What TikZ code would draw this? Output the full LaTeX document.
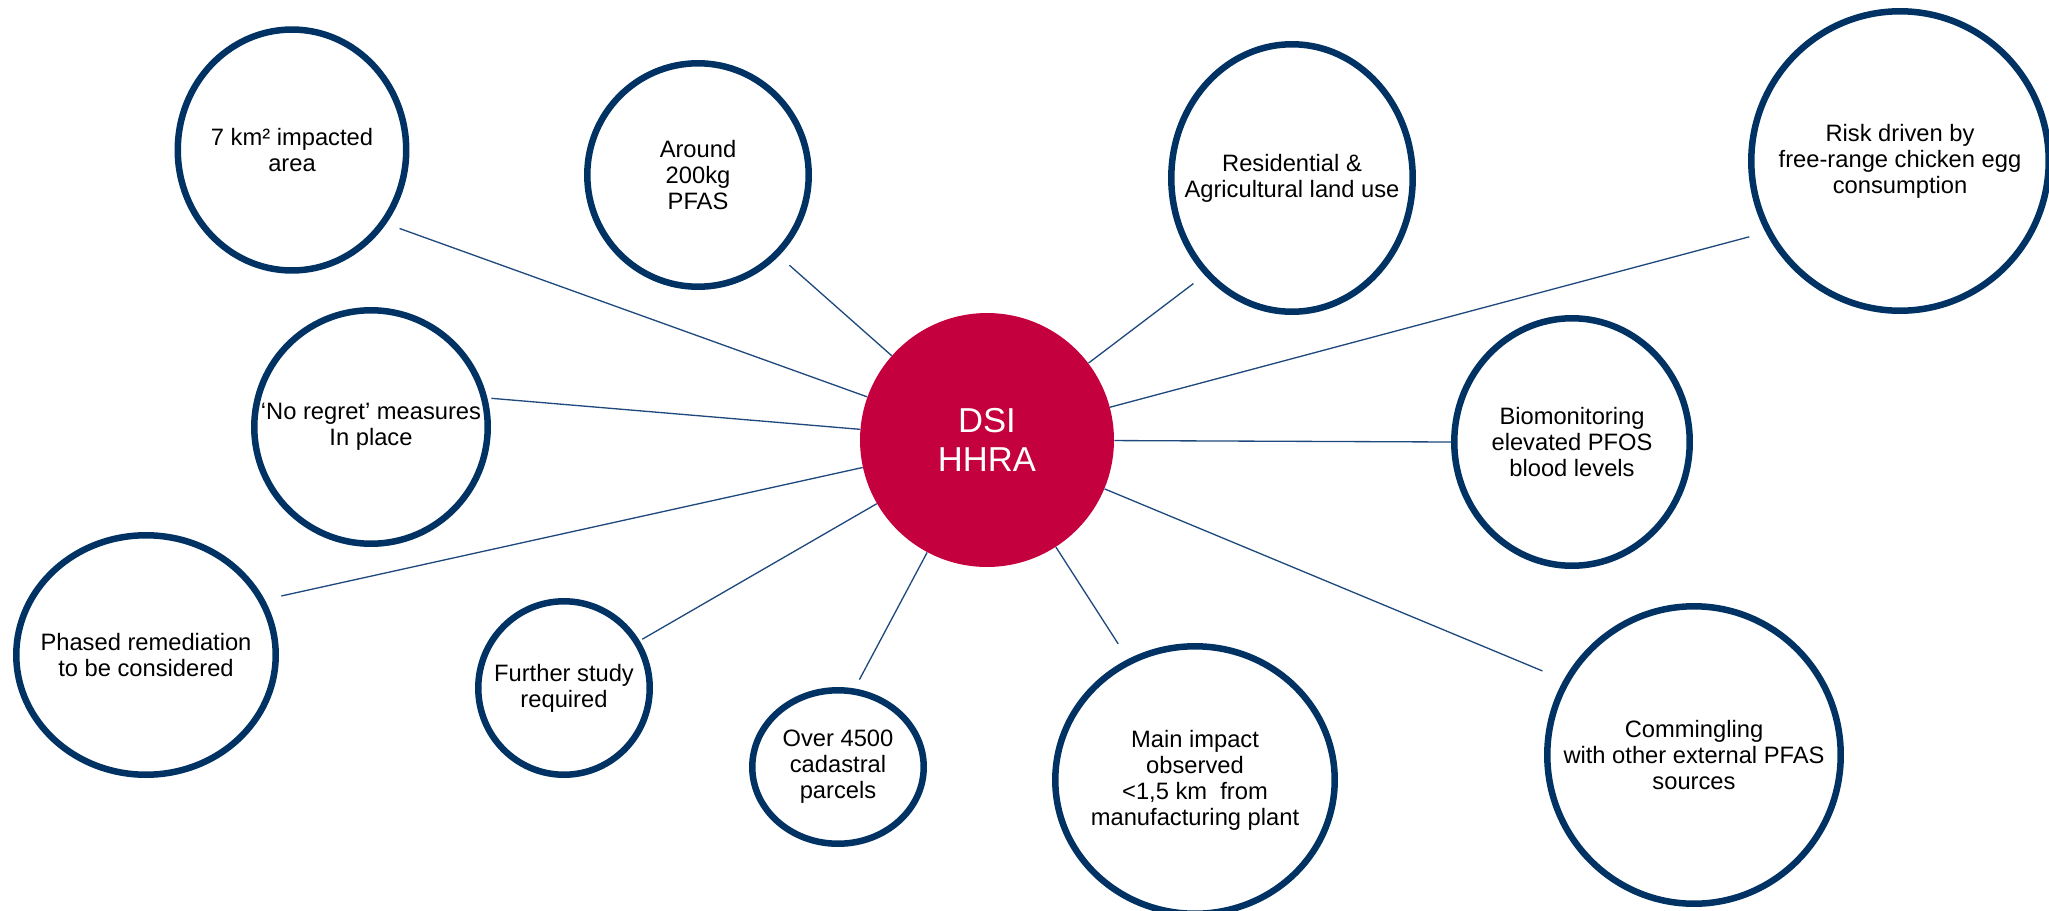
\documentclass[tikz,border=0pt]{standalone}
\usepackage{fontspec}
\setmainfont{Liberation Sans}
\usetikzlibrary{shapes.geometric}
\definecolor{ringblue}{RGB}{0,50,100}
\definecolor{hubred}{RGB}{196,0,62}
\definecolor{linkblue}{RGB}{31,73,125}

\begin{document}
\begin{tikzpicture}[x=0.02cm, y=-0.02cm,
  bubble/.style={ellipse, draw=ringblue, line width=3.7pt, fill=white, inner sep=0pt},
  note/.style={align=center, font=\fontsize{13.5}{14.8}\selectfont},
  link/.style={draw=linkblue, line width=0.75pt}]
  \useasboundingbox (0,0) rectangle (2049,910);
  \node (hub) at (987,440) [circle, fill=hubred, minimum size=5.08cm, inner sep=0pt, align=center, text=white, font=\fontsize{19.7}{22.2}\selectfont] {DSI\\HHRA};
  \node (e1) at (292,150) [bubble, minimum width=4.57cm, minimum height=4.82cm, label={[note]center:{7 km² impacted\\area}}] {};
  \node (e2) at (698,175) [bubble, minimum width=4.43cm, minimum height=4.47cm, label={[note]center:{Around\\200kg\\PFAS}}] {};
  \node (e3) at (371,427) [bubble, minimum width=4.67cm, minimum height=4.67cm, label={[note]center:{‘No regret’ measures\\In place}}] {};
  \node (e4) at (146,655) [bubble, minimum width=5.19cm, minimum height=4.79cm, label={[note]center:{Phased remediation\\to be considered}}] {};
  \node (e5) at (564,688) [bubble, minimum width=3.43cm, minimum height=3.47cm, label={[note]center:{Further study\\required}}] {};
  \node (e6) at (838,767) [bubble, minimum width=3.43cm, minimum height=3.07cm, label={[note]center:{Over 4500\\cadastral\\parcels}}] {};
  \node (e7) at (1195,780) [bubble, minimum width=5.59cm, minimum height=5.35cm, label={[note]center:{Main impact\\observed\\<1,5 km\ \ from\\manufacturing plant}}] {};
  \node (e8) at (1694,755) [bubble, minimum width=5.87cm, minimum height=5.95cm, label={[note]center:{Commingling\\with other external PFAS\\sources}}] {};
  \node (e9) at (1572,442) [bubble, minimum width=4.71cm, minimum height=4.95cm, label={[note]center:{Biomonitoring\\elevated PFOS\\blood levels}}] {};
  \node (e10) at (1900,161) [bubble, minimum width=5.95cm, minimum height=5.99cm, label={[note]center:{Risk driven by\\free-range chicken egg\\consumption}}] {};
  \node (e11) at (1292,178) [bubble, minimum width=4.83cm, minimum height=5.35cm, label={[note]center:{Residential \&\\Agricultural land use}}] {};
  \foreach \n/\a/\g in {e1/-38.5/0.28cm, e2/-45/0.28cm, e3/14.5/0.08cm, e4/25.5/0.34cm, e5/32.7/0.06cm, e6/78.6/0.2cm, e7/119/0.36cm, e8/150/0.46cm, e9/180/0pt, e10/-152.5/0.34cm, e11/-132/0.28cm}
    \draw [link, shorten >=\g] (hub) -- (\n.\a);
\end{tikzpicture}
\end{document}
